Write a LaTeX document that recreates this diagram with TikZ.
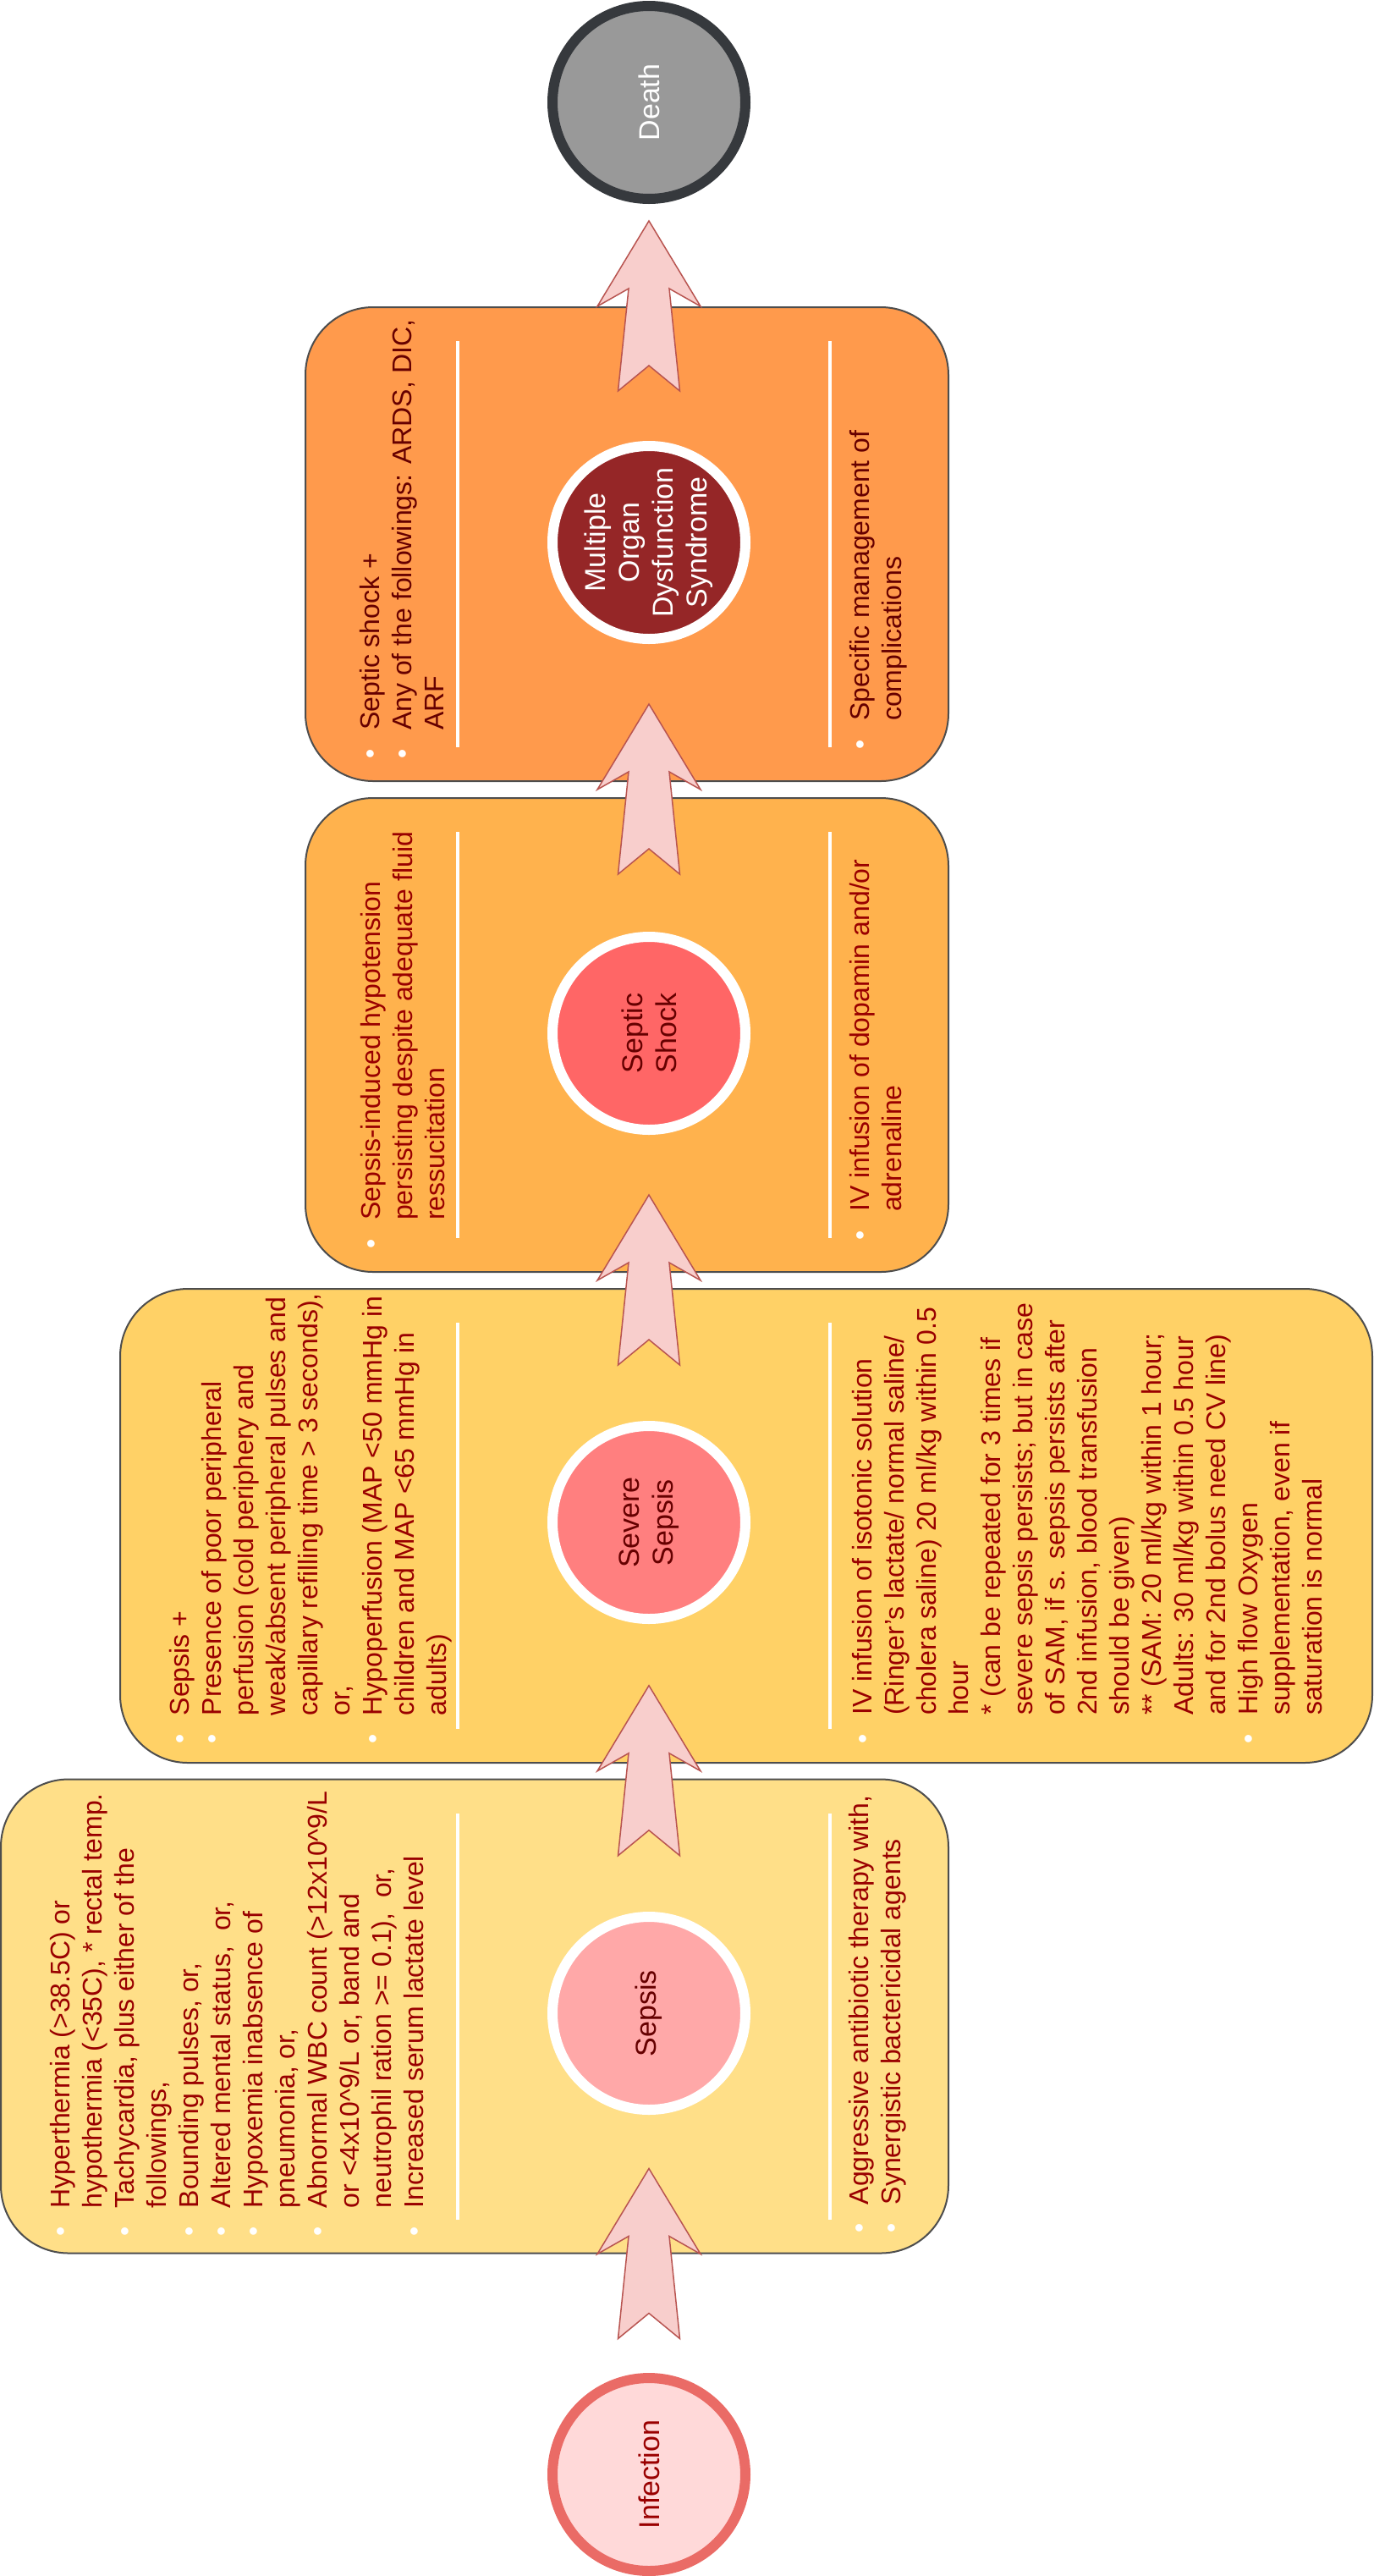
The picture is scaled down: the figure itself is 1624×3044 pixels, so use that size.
\documentclass[tikz,border=0pt]{standalone}
\usepackage{fontspec}
\setmainfont{Liberation Sans}
\usepackage{tikz}

\definecolor{boxline}{HTML}{4D4D4D}
\definecolor{sepsisbg}{HTML}{FFDF88}
\definecolor{severebg}{HTML}{FFD166}
\definecolor{shockbg}{HTML}{FFB24D}
\definecolor{modsbg}{HTML}{FF9A4C}
\definecolor{infectfill}{HTML}{FFD9D9}
\definecolor{infectline}{HTML}{EA6B66}
\definecolor{sepsisfill}{HTML}{FFA8A8}
\definecolor{severefill}{HTML}{FF7F7F}
\definecolor{shockfill}{HTML}{FF6666}
\definecolor{modsfill}{HTML}{952627}
\definecolor{deathfill}{HTML}{999999}
\definecolor{deathline}{HTML}{36393D}
\definecolor{arrowpink}{HTML}{F8CECC}
\definecolor{arrowred}{HTML}{B85450}
\definecolor{listred}{HTML}{990000}
\definecolor{darkred}{HTML}{660000}

\newcommand{\wb}{\textcolor{white}{\textbullet}}
\newcommand{\notelist}[1]{\begin{tabular}[t]{@{}c@{\hspace{22.4pt}}l@{}}#1\end{tabular}}

\tikzset{
  stagearrow/.pic={
    \draw[fill=arrowpink, draw=arrowred, line width=1.5pt] (0,-101) -- (61,0) -- (24,-21) -- (36.5,100) -- (0,70) -- (-36.5,100) -- (-24,-21) -- (-61,0) -- cycle;
  }
}

\begin{document}
\begin{tikzpicture}[x=1pt, y=-1pt,
    stage/.style={draw=boxline, line width=2pt, rounded corners=80pt, minimum height=560pt},
    divider/.style={white, line width=4pt},
    notes/.style={rotate=90, anchor=base west, inner sep=0pt, text=listred, font=\fontsize{32}{38}\selectfont},
    disease/.style={circle, draw=white, line width=12pt, minimum size=228pt, inner sep=0pt},
    caption/.style={rotate=90, align=center, inner sep=0pt, font=\fontsize{34}{40}\selectfont}]
          \useasboundingbox (0,0) rectangle (1624,3044);

          \node[stage, fill=modsbg, minimum width=760pt] (modsbox) at (741,643) {};
          \node[stage, fill=shockbg, minimum width=760pt] (shockbox) at (741,1223) {};
          \node[stage, fill=severebg, minimum width=1480pt] (severebox) at (882,1803) {};
          \node[stage, fill=sepsisbg, minimum width=1120pt] (sepsisbox) at (561,2382.5) {};

          \foreach \y in {363,943,1523,2103}
            \draw[divider] (541,\y+40) -- (541,\y+520) (981,\y+40) -- (981,\y+520);

          \node[notes, text=darkred] (modssigns) at (448.5,896.6) {\notelist{
            \wb & Septic shock +\\
            \wb & Any of the followings: ARDS, DIC,\\
                & ARF}};
          \node[notes, text=darkred] (modscare) at (1027.5,885.6) {\notelist{
            \wb & Specific management of\\
                & complications}};

          \node[notes] (shocksigns) at (449.5,1475.6) {\notelist{
            \wb & Sepsis-induced hypotension\\
                & persisting despite adequate fluid\\
                & ressucitation}};
          \node[notes] (shockcare) at (1027.5,1465.6) {\notelist{
            \wb & IV infusion of dopamin and/or\\
                & adrenaline}};

          \node[notes] (severesigns) at (223,2061) {\notelist{
            \wb & Sepsis +\\
            \wb & Presence of poor peripheral\\
                & perfusion (cold periphery and\\
                & weak/absent peripheral pulses and\\
                & capillary refilling time > 3 seconds),\\
                & or,\\
            \wb & Hypoperfusion (MAP <50 mmHg in\\
                & children and MAP <65 mmHg in\\
                & adults)}};
          \node[notes] (severecare) at (1030.5,2060.6) {\notelist{
            \wb & IV infusion of isotonic solution\\
                & (Ringer's lactate/ normal saline/\\
                & cholera saline) 20 ml/kg within 0.5\\
                & hour\\
                & * (can be repeated for 3 times if\\
                & severe sepsis persists; but in case\\
                & of SAM, if s. sepsis persists after\\
                & 2nd infusion, blood transfusion\\
                & should be given)\\
                & ** (SAM: 20 ml/kg within 1 hour;\\
                & Adults: 30 ml/kg within 0.5 hour\\
                & and for 2nd bolus need CV line)\\
            \wb & High flow Oxygen\\
                & supplementation, even if\\
                & saturation is normal}};

          \node[notes] (sepsissigns) at (82,2643) {\notelist{
            \wb & Hyperthermia (>38.5C) or\\
                & hypothermia (<35C), * rectal temp.\\
            \wb & Tachycardia, plus either of the\\
                & followings,\\
            \wb & Bounding pulses, or,\\
            \wb & Altered mental status,\ \ or,\\
            \wb & Hypoxemia inabsence of\\
                & pneumonia, or,\\
            \wb & Abnormal WBC count (>12x10\textasciicircum9/L\\
                & or <4x10\textasciicircum9/L or, band and\\
                & neutrophil ration >= 0.1),\ \ or,\\
            \wb & Increased serum lactate level}};
          \node[notes] (sepsiscare) at (1026,2639) {\notelist{
            \wb & Aggressive antibiotic therapy with,\\
            \wb & Synergistic bactericidal agents}};

          \node[disease, fill=deathfill, draw=deathline, label={[caption, text=white]center:Death}] (death) at (767,121) {};
          \node[disease, fill=modsfill, label={[caption, text=white]center:Multiple\\Organ\\Dysfunction\\Syndrome}] (mods) at (767,641) {};
          \node[disease, fill=shockfill, label={[caption, text=darkred]center:Septic\\Shock}] (shock) at (767,1221) {};
          \node[disease, fill=severefill, label={[caption, text=darkred]center:Severe\\Sepsis}] (severe) at (767,1799) {};
          \node[disease, fill=sepsisfill, label={[caption, text=darkred]center:Sepsis}] (sepsis) at (767,2379) {};
          \node[disease, fill=infectfill, draw=infectline, label={[caption, text=listred]center:Infection}] (infection) at (767,2924) {};

          \pic at (infection |- sepsisbox.south) {stagearrow};
          \foreach \lo/\hi in {sepsisbox/severebox, severebox/shockbox, shockbox/modsbox}{
            \path (\lo.north) -- coordinate (gap) (\hi.south);
            \pic at (gap -| infection) {stagearrow};
          }
          \pic at (infection |- modsbox.north) {stagearrow};
        \end{tikzpicture}
\end{document}
